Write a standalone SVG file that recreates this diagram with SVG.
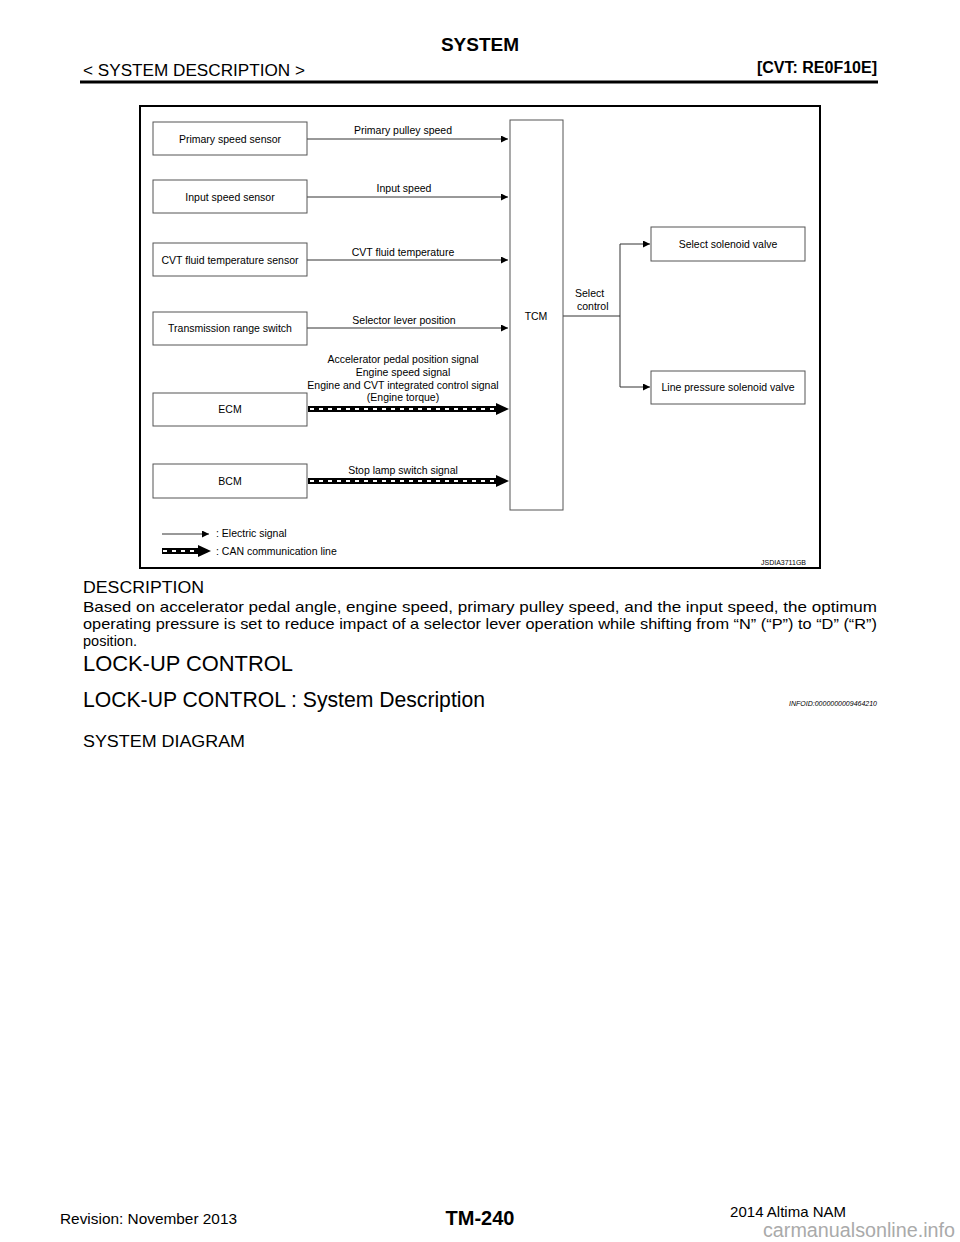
<svg xmlns="http://www.w3.org/2000/svg" width="960" height="1242" viewBox="0 0 960 1242">
<style>
text{font-family:"Liberation Sans",Arial,sans-serif;fill:#000}
.box{fill:#fff;stroke:#555;stroke-width:1}
.lbl{font-size:10.5px;text-anchor:middle}
.sig{stroke:#333;stroke-width:1;fill:none}
.canb{stroke:#000;stroke-width:6;fill:none}
.canw{stroke:#fff;stroke-width:2;stroke-dasharray:4 5;fill:none}
.hd{font-size:16px}
.para{font-size:14.5px}
.big{font-size:22px}
</style>
<defs>
<marker id="ah" markerWidth="8" markerHeight="8" refX="7" refY="3.5" orient="auto" markerUnits="userSpaceOnUse">
<path d="M0,0 L7,3.5 L0,7 Z" fill="#000"/>
</marker>
</defs>
<rect width="960" height="1242" fill="#fff"/>

<!-- header -->
<text x="480" y="51" font-size="19" font-weight="bold" text-anchor="middle">SYSTEM</text>
<text x="83" y="76" class="hd" textLength="222" lengthAdjust="spacingAndGlyphs">&lt; SYSTEM DESCRIPTION &gt;</text>
<text x="877" y="73" font-size="16" font-weight="bold" text-anchor="end">[CVT: RE0F10E]</text>
<line x1="80" y1="82" x2="878" y2="82" stroke="#000" stroke-width="3"/>

<!-- diagram frame -->
<rect x="140" y="106" width="680" height="462" fill="#fff" stroke="#000" stroke-width="2"/>

<g id="connectors">
<line class="sig" x1="307" y1="139" x2="508" y2="139" marker-end="url(#ah)"/>
<line class="sig" x1="307" y1="197" x2="508" y2="197" marker-end="url(#ah)"/>
<line class="sig" x1="307" y1="260" x2="508" y2="260" marker-end="url(#ah)"/>
<line class="sig" x1="307" y1="328" x2="508" y2="328" marker-end="url(#ah)"/>
<g id="can-ecm">
<line class="canb" x1="308" y1="409" x2="498" y2="409"/>
<line class="canw" x1="310" y1="409" x2="495" y2="409"/>
<polygon points="496,403 509,409 496,415" fill="#000"/>
</g>
<g id="can-bcm">
<line class="canb" x1="308" y1="481" x2="498" y2="481"/>
<line class="canw" x1="310" y1="481" x2="495" y2="481"/>
<polygon points="496,475 509,481 496,487" fill="#000"/>
</g>
<polyline class="sig" points="563,316 620,316"/>
<polyline class="sig" points="620,244 620,387"/>
<line class="sig" x1="620" y1="244" x2="650" y2="244" marker-end="url(#ah)"/>
<line class="sig" x1="620" y1="387" x2="650" y2="387" marker-end="url(#ah)"/>
</g>

<g id="labels">
<text x="403" y="134" class="lbl">Primary pulley speed</text>
<text x="404" y="192" class="lbl">Input speed</text>
<text x="403" y="256" class="lbl">CVT fluid temperature</text>
<text x="404" y="324" class="lbl">Selector lever position</text>
<text x="403" y="363" class="lbl">Accelerator pedal position signal</text>
<text x="403" y="376" class="lbl">Engine speed signal</text>
<text x="403" y="389" class="lbl">Engine and CVT integrated control signal</text>
<text x="403" y="401" class="lbl">(Engine torque)</text>
<text x="403" y="474" class="lbl">Stop lamp switch signal</text>
<text x="575" y="297" font-size="10.5">Select</text>
<text x="577" y="310" font-size="10.5">control</text>
</g>

<g id="primary-speed-sensor"><rect class="box" x="153" y="122" width="154" height="33"/><text x="230" y="142.5" class="lbl">Primary speed sensor</text></g>
<g id="input-speed-sensor"><rect class="box" x="153" y="180" width="154" height="33"/><text x="230" y="200.5" class="lbl">Input speed sensor</text></g>
<g id="cvt-fluid-temp-sensor"><rect class="box" x="153" y="243" width="154" height="33"/><text x="230" y="263.5" class="lbl">CVT fluid temperature sensor</text></g>
<g id="transmission-range-switch"><rect class="box" x="153" y="312" width="154" height="33"/><text x="230" y="332" class="lbl">Transmission range switch</text></g>
<g id="ecm"><rect class="box" x="153" y="393" width="154" height="33"/><text x="230" y="413" class="lbl">ECM</text></g>
<g id="bcm"><rect class="box" x="153" y="464" width="154" height="34"/><text x="230" y="485" class="lbl">BCM</text></g>
<g id="tcm"><rect class="box" x="510" y="120" width="53" height="390"/><text x="536" y="320" class="lbl">TCM</text></g>
<g id="select-solenoid-valve"><rect class="box" x="651" y="227" width="154" height="34"/><text x="728" y="248" class="lbl">Select solenoid valve</text></g>
<g id="line-pressure-solenoid-valve"><rect class="box" x="651" y="371" width="154" height="33"/><text x="728" y="391" class="lbl">Line pressure solenoid valve</text></g>

<g id="legend">
<line class="sig" x1="162" y1="534" x2="209" y2="534" marker-end="url(#ah)"/>
<text x="216" y="537" font-size="10.5">: Electric signal</text>
<line class="canb" x1="162" y1="551" x2="199" y2="551"/>
<line class="canw" x1="163" y1="551" x2="197" y2="551"/>
<polygon points="198,545 211,551 198,557" fill="#000"/>
<text x="216" y="555" font-size="10.5">: CAN communication line</text>
</g>
<text x="806" y="565" font-size="7" text-anchor="end">JSDIA3711GB</text>

<!-- body text -->
<text x="83" y="593" class="hd" textLength="121" lengthAdjust="spacingAndGlyphs">DESCRIPTION</text>
<text x="83" y="612" class="para" textLength="794" lengthAdjust="spacingAndGlyphs">Based on accelerator pedal angle, engine speed, primary pulley speed, and the input speed, the optimum</text>
<text x="83" y="629" class="para" textLength="794" lengthAdjust="spacingAndGlyphs">operating pressure is set to reduce impact of a selector lever operation while shifting from “N” (“P”) to “D” (“R”)</text>
<text x="83" y="646" class="para">position.</text>
<text x="83" y="671" class="big" textLength="210" lengthAdjust="spacingAndGlyphs">LOCK-UP CONTROL</text>
<text x="83" y="707" class="big" textLength="402" lengthAdjust="spacingAndGlyphs">LOCK-UP CONTROL : System Description</text>
<text x="877" y="706" font-size="7" font-style="italic" text-anchor="end">INFOID:0000000009464210</text>
<text x="83" y="747" class="hd" textLength="162" lengthAdjust="spacingAndGlyphs">SYSTEM DIAGRAM</text>

<!-- footer -->
<text x="60" y="1224" font-size="15" textLength="177" lengthAdjust="spacingAndGlyphs">Revision: November 2013</text>
<text x="480" y="1225" font-size="20" font-weight="bold" text-anchor="middle">TM-240</text>
<text x="846" y="1217" font-size="15" text-anchor="end">2014 Altima NAM</text>
<text x="955" y="1237" font-size="20" fill="#aaa" style="fill:#aaa" text-anchor="end" textLength="192" lengthAdjust="spacingAndGlyphs">carmanualsonline.info</text>
</svg>
